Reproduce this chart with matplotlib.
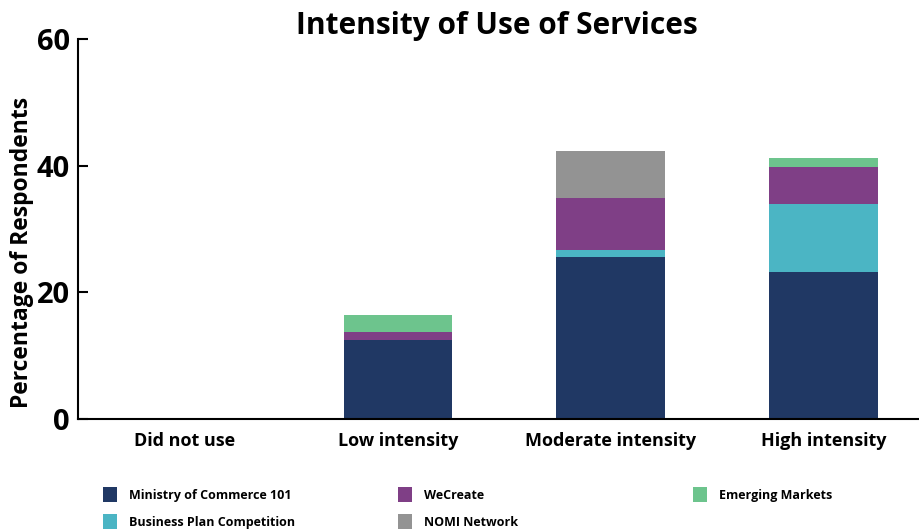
import matplotlib
matplotlib.use("Agg")
import matplotlib.pyplot as plt
import numpy as np
from matplotlib.patches import Patch

categories = ["Did not use", "Low intensity", "Moderate intensity", "High intensity"]
ministry = [0, 12.5, 25.6, 23.2]
bpc = [0, 0.0, 1.1, 10.7]
wecreate = [0, 1.3, 8.2, 5.9]
nomi = [0, 0.0, 7.4, 0.0]
emerging = [0, 2.7, 0.0, 1.4]
yticks = [0, 20, 40, 60]

series = [
    ("Ministry of Commerce 101", ministry, "#203864"),
    ("Business Plan Competition", bpc, "#4BB5C4"),
    ("WeCreate", wecreate, "#7F3F86"),
    ("NOMI Network", nomi, "#939393"),
    ("Emerging Markets", emerging, "#6DC48D"),
]

plt.rcParams['font.family'] = ['Open Sans', 'DejaVu Sans']
plt.rcParams['font.weight'] = 'bold'
fig = plt.figure(figsize=(9.19, 5.31), dpi=100)
ax = fig.add_axes([78/919, 1-419/531, 1-78/919, (419-39)/531])

x = np.arange(len(categories))
bottom = np.zeros(len(categories))
handles = {}
for name, vals, col in series:
    v = np.array(vals, dtype=float)
    ax.bar(x, v, 0.51, bottom=bottom, color=col, label=name)
    handles[name] = Patch(facecolor=col)
    bottom += v

ax.set_xlim(-0.503, 3.45)
ax.set_ylim(0, 60)
ax.set_yticks(yticks)
ax.set_yticklabels([str(t) for t in yticks], fontsize=21, fontweight='bold')
ax.set_xticks(x)
ax.set_xticklabels(categories, fontsize=13, fontweight='bold')
ax.tick_params(axis='y', direction='in', length=7, width=1.5, pad=6)
ax.tick_params(axis='x', length=0, pad=9)
for s in ['top', 'right']:
    ax.spines[s].set_visible(False)
for s in ['left', 'bottom']:
    ax.spines[s].set_linewidth(1.5)
ax.set_ylabel("Percentage of Respondents", fontsize=16.5, fontweight='bold')
ax.yaxis.set_label_coords(-44/841, (419-252)/380)
fig.text(497/919, 1-26/531, "Intensity of Use of Services", fontsize=21.5, fontweight='bold',
         ha='center', va='center')

cols = [
    (103/919, ["Ministry of Commerce 101", "Business Plan Competition"]),
    (398/919, ["WeCreate", "NOMI Network"]),
    (693/919, ["Emerging Markets"]),
]
for xpos, names in cols:
    fig.legend([handles[n] for n in names], names, loc='upper left',
               bbox_to_anchor=(xpos, 1-487/531), frameon=False,
               prop={'weight': 'bold', 'size': 9}, handlelength=1.15, handleheight=1.5,
               handletextpad=0.9, labelspacing=0.95, borderpad=0, borderaxespad=0)

fig.savefig("out.png", dpi=100)
